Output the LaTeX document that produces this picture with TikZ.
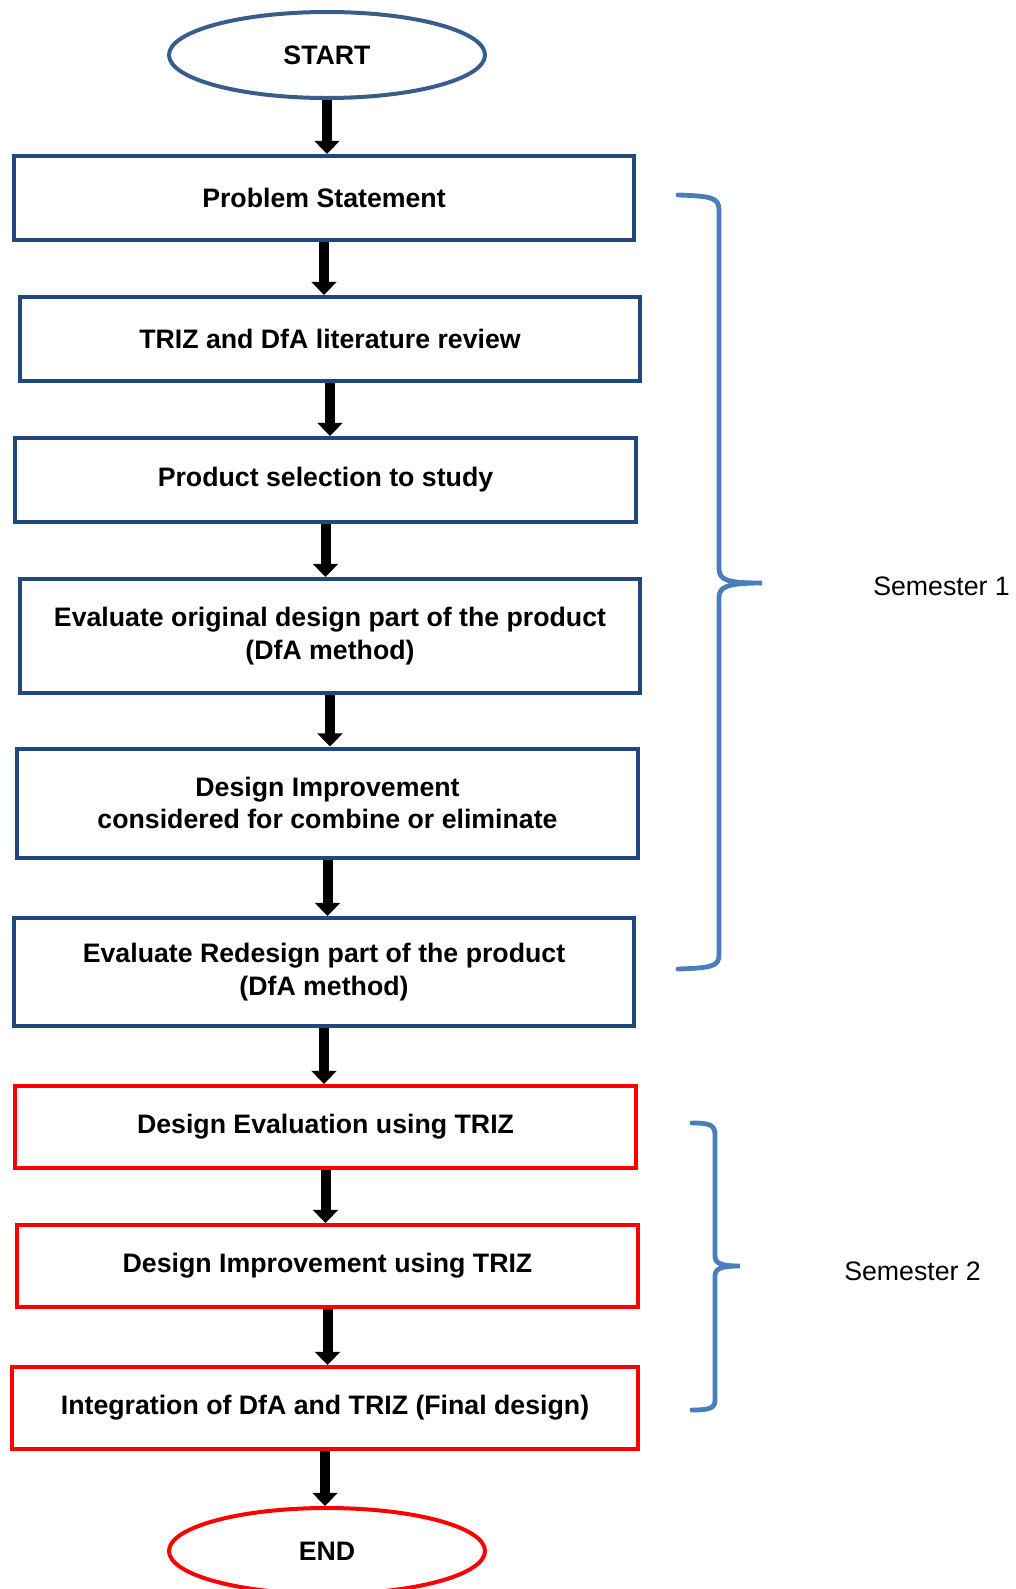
\documentclass[tikz,border=0pt]{standalone}
\usepackage{fontspec}
\setmainfont{Liberation Sans}
\usetikzlibrary{shapes.geometric, arrows.meta}
\definecolor{boxblue}{RGB}{31,73,125}
\definecolor{ovalblue}{RGB}{56,93,138}
\definecolor{bracecol}{RGB}{74,126,187}
\definecolor{boxred}{RGB}{255,0,0}
\tikzset{
  stepbox/.style={draw=boxblue, line width=1mm, minimum width=155mm, minimum height=21mm,
    inner sep=0pt, align=center, font=\bfseries\fontsize{19}{23}\selectfont},
  redbox/.style={stepbox, draw=boxred, minimum height=20.5mm},
  oval/.style={ellipse, draw=ovalblue, line width=1mm, minimum width=79mm, minimum height=21.5mm,
    inner sep=0pt, font=\bfseries\fontsize{19}{23}\selectfont},
  arr/.style={line width=2.5mm, -{Triangle[length=3.3mm, width=6.2mm]}},
  brace/.style={draw=bracecol, line width=1.2mm, line cap=round},
  semtext/.style={anchor=west, inner sep=0pt, font=\fontsize{19}{23}\selectfont}
}
\begin{document}
\begin{tikzpicture}[x=0.25mm, y=-0.25mm]
\useasboundingbox (0,0) rectangle (1016,1589);

% start and end
\node[oval] (start) at (327,55) {START};
\node[oval, draw=boxred] (end) at (327,1551) {END};

% semester 1 steps
\node[stepbox] (ps) at (324,198) {Problem Statement};
\node[stepbox] (lit) at (330,339) {TRIZ and DfA literature review};
\node[stepbox] (sel) at (325.5,480) {Product selection to study};
\node[stepbox, minimum height=28.5mm] (evo) at (330,636) {Evaluate original design part of the product\\(DfA method)};
\node[stepbox, minimum height=27.25mm] (imp) at (327.5,803) {Design Improvement\\considered for combine or eliminate};
\node[stepbox, minimum height=27mm] (evr) at (324,972) {Evaluate Redesign part of the product\\(DfA method)};

% semester 2 steps
\node[redbox] (tev) at (325.5,1127) {Design Evaluation using TRIZ};
\node[redbox] (tim) at (327.5,1266) {Design Improvement using TRIZ};
\node[redbox, minimum width=156.5mm] (fin) at (325,1408) {Integration of DfA and TRIZ (Final design)};

% arrows
\foreach \a/\b in {start/ps, ps/lit, lit/sel, sel/evo, evo/imp, imp/evr, evr/tev, tev/tim, tim/fin, fin/end}
  \draw[arr] (\a.south) -- (\a.south |- \b.north);

% braces
\draw[brace] (678,195) .. controls (712,196) and (719,198) .. (719,210) -- (719,568)
  .. controls (719,580) and (726,583) .. (762,583)
  .. controls (726,583) and (719,587) .. (719,598) -- (719,955)
  .. controls (719,966) and (712,968) .. (678,969);
\draw[brace] (692,1123) .. controls (710,1123) and (715,1125) .. (715,1135) -- (715,1256)
  .. controls (715,1263) and (720,1266) .. (740,1266)
  .. controls (720,1266) and (715,1269) .. (715,1276) -- (715,1400)
  .. controls (715,1408) and (710,1410) .. (692,1410);

\node[semtext] (sem1) at (873,586) {Semester 1};
\node[semtext] (sem2) at (844,1271) {Semester 2};
\end{tikzpicture}
\end{document}
